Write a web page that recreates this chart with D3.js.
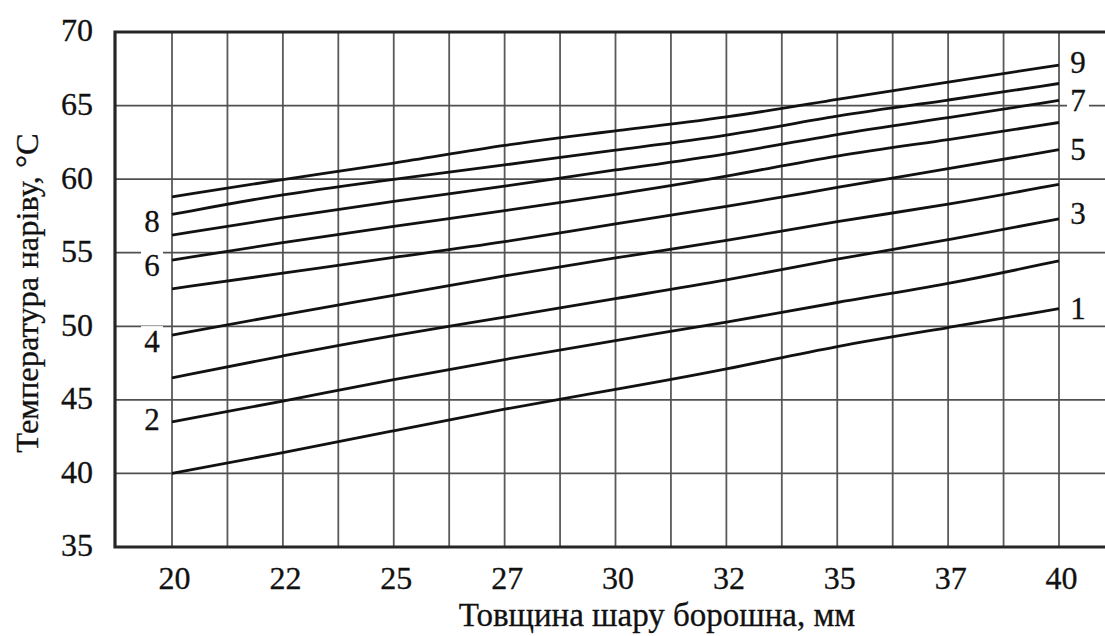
<!DOCTYPE html>
<html>
<head>
<meta charset="utf-8">
<script src="https://cdn.jsdelivr.net/npm/d3@7"></script>
<style>
  body { margin: 0; background: #fff; }
  text { font-family: "Liberation Serif", "Times New Roman", serif; fill: #111; stroke: #111; stroke-width: 0.3px; }
</style>
</head>
<body>
<svg></svg>
<script>
let width = 1105, height = 636;

// Data (thickness in mm, temperature in °C)
const thickness = [20, 22.5, 25, 27.5, 30, 32.5, 35, 37.5, 40];
const curve1 = [40.0, 41.4, 42.9, 44.4, 45.7, 47.05, 48.7, 49.9, 51.2];
const curve2 = [43.5, 44.9, 46.4, 47.75, 49.05, 50.25, 51.65, 52.85, 54.45];
const curve3 = [46.5, 48.0, 49.4, 50.6, 51.9, 53.1, 54.6, 55.85, 57.3];
const curve4 = [49.4, 50.8, 52.1, 53.45, 54.65, 55.8, 57.15, 58.25, 59.65];
const curve5 = [52.55, 53.6, 54.7, 55.7, 57.0, 58.1, 59.45, 60.7, 62.0];
const curve6 = [54.5, 55.7, 56.8, 57.85, 58.95, 60.15, 61.65, 62.65, 63.85];
const curve7 = [56.2, 57.4, 58.5, 59.5, 60.65, 61.65, 63.1, 64.15, 65.35];
const curve8 = [57.6, 59.0, 60.0, 60.95, 62.0, 62.9, 64.35, 65.35, 66.5];
const curve9 = [58.8, 60.0, 61.05, 62.35, 63.3, 64.15, 65.45, 66.6, 67.75];
const curveNames = ["1", "2", "3", "4", "5", "6", "7", "8", "9"];

const xTickValues = [20, 22.5, 25, 27.5, 30, 32.5, 35, 37.5, 40];
const xTickLabels = ["20", "22", "25", "27", "30", "32", "35", "37", "40"];
const yTickValues = [35, 40, 45, 50, 55, 60, 65, 70];
const xGridStep = 1.25;

const xTitle = "Товщина шару борошна, мм";
const yTitle = "Температура наріву, °С";

let svg = d3.select("svg")
    .attr("width", width)
    .attr("height", height);

let x = d3.scaleLinear().domain([20, 40]).range([172, 1059]);
let y = d3.scaleLinear().domain([35, 70]).range([547, 32]);

let frameLeft = 115, frameRight = width + 10;
let serif = "'Liberation Serif', 'Times New Roman', serif";

// grid
let xGrid = d3.range(20, 40 + 0.001, xGridStep);
svg.append("g")
    .selectAll("line")
    .data(xGrid)
    .enter()
    .append("line")
    .attr("x1", d => x(d)).attr("x2", d => x(d))
    .attr("y1", y(70)).attr("y2", y(35))
    .attr("stroke", "#5a5a5a")
    .attr("stroke-width", 1.8);

svg.append("g")
    .selectAll("line")
    .data(yTickValues.filter(v => v > 35 && v < 70))
    .enter()
    .append("line")
    .attr("x1", frameLeft).attr("x2", frameRight)
    .attr("y1", d => y(d)).attr("y2", d => y(d))
    .attr("stroke", "#505050")
    .attr("stroke-width", 1.8);

// frame (right side is cut off by the picture edge)
svg.append("path")
    .attr("d", "M" + frameRight + "," + y(70) + "H" + frameLeft + "V" + y(35) + "H" + frameRight)
    .attr("fill", "none")
    .attr("stroke", "#262626")
    .attr("stroke-width", 3.2);

// axes
let yAxis = svg.append("g")
    .attr("transform", "translate(" + frameLeft + ",0)")
    .call(d3.axisLeft(y).tickValues(yTickValues).tickSize(0).tickPadding(22));
yAxis.select(".domain").remove();
yAxis.selectAll("text")
    .attr("dy", "0.28em")
    .style("font-size", "32px")
    .style("font-family", serif)
    .attr("fill", "#111");

let xAxis = svg.append("g")
    .attr("transform", "translate(0," + y(35) + ")")
    .call(d3.axisBottom(x).tickValues(xTickValues)
        .tickFormat((d, i) => xTickLabels[i]).tickSize(0).tickPadding(19));
xAxis.select(".domain").remove();
xAxis.selectAll("text")
    .attr("dy", "0.71em")
    .attr("dx", 2)
    .style("font-size", "32px")
    .style("font-family", serif)
    .attr("fill", "#111");

// titles
svg.append("text")
    .attr("x", 657)
    .attr("y", 626)
    .attr("text-anchor", "middle")
    .style("font-size", "33px")
    .text(xTitle);

svg.append("text")
    .attr("transform", "translate(38,293) rotate(-90)")
    .attr("text-anchor", "middle")
    .style("font-size", "32.5px")
    .text(yTitle);

// curves
let series = [curve1, curve2, curve3, curve4, curve5, curve6, curve7, curve8, curve9]
    .map((vals, i) => ({ name: curveNames[i], values: vals.map((v, j) => [thickness[j], v]) }));

let line = d3.line()
    .x(d => x(d[0]))
    .y(d => y(d[1]))
    .curve(d3.curveBasis);

svg.append("g")
    .selectAll("path")
    .data(series)
    .enter()
    .append("path")
    .attr("d", d => line(d.values))
    .attr("fill", "none")
    .attr("stroke", "#111")
    .attr("stroke-width", 2.8);

// curve numbers: even ones on the left end, odd ones on the right end
let labelShift = { "1": 0, "2": -2, "3": -5, "4": 6, "5": 0, "6": 5, "7": 0, "8": 7, "9": -3 };
let labels = svg.append("g")
    .selectAll("g")
    .data(series)
    .enter()
    .append("g")
    .attr("transform", d => {
        let odd = +d.name % 2 === 1;
        let p = odd ? d.values[d.values.length - 1] : d.values[0];
        let lx = odd ? x(p[0]) + 19 : x(p[0]) - 20;
        return "translate(" + lx + "," + (y(p[1]) + labelShift[d.name]) + ")";
    });

labels.append("rect")
    .attr("x", -11).attr("y", -15)
    .attr("width", 22).attr("height", 30)
    .attr("fill", "#fff");

labels.append("text")
    .attr("text-anchor", "middle")
    .attr("dy", "0.34em")
    .style("font-size", "31px")
    .text(d => d.name);
</script>
</body>
</html>
